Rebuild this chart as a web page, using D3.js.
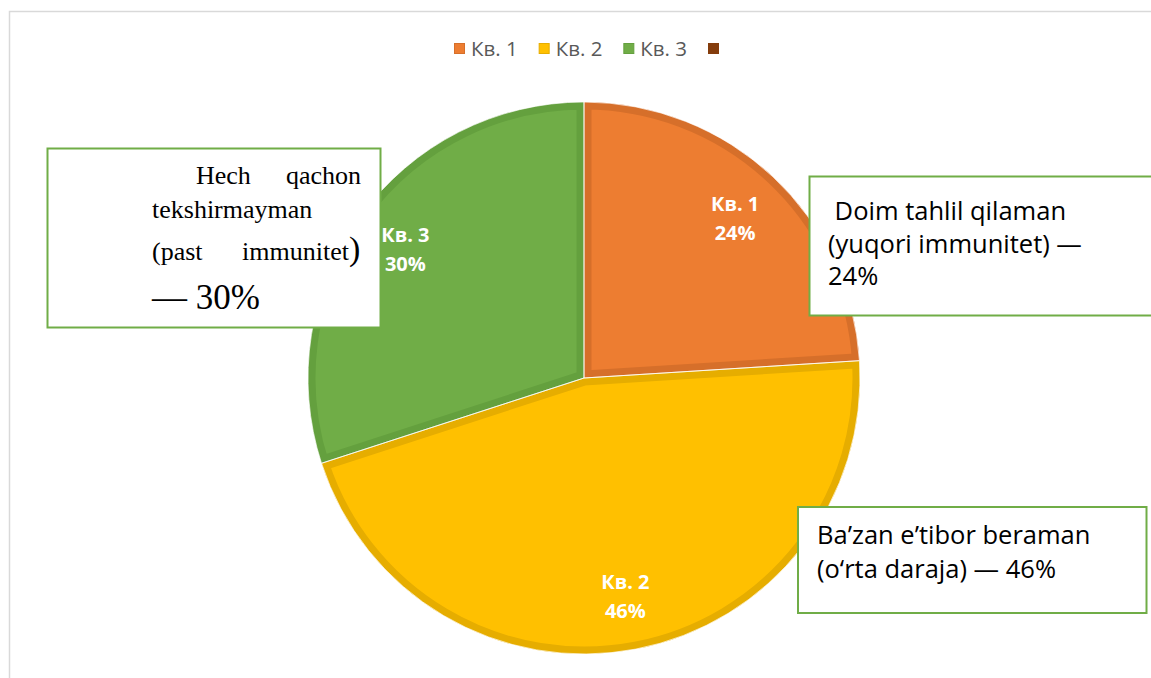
<!DOCTYPE html>
<html>
<script src="https://d3js.org/d3.v7.min.js"></script>

<head>
    <style>
        body {
            margin: 0;
            background-color: white;
        }

        svg {
            display: block;
        }
    </style>
</head>

<body>
    <svg width="1151" height="678"></svg>
</body>
<script>
    const width = 1151,
        height = 678;
    const svg = d3.select("svg");

    // data
    const CATEGORIES = ["Кв. 1", "Кв. 2", "Кв. 3", ""];
    const VALUES = [24, 46, 30, 0];
    const FILLS = ["#ed7d31", "#ffc000", "#70ad47", "#843c0c"];
    const EDGES = ["#d66f2a", "#e6ad00", "#64a03e", "#843c0c"];

    // callout boxes
    const RIGHT_TOP_LINES = [" Doim tahlil qilaman", "(yuqori immunitet) —", "24%"];
    const RIGHT_BOTTOM_LINES = ["Ba’zan e’tibor beraman", "(o‘rta daraja) — 46%"];

    const sans = "'Open Sans', 'Noto Sans', sans-serif";
    const serif = "'Liberation Serif', 'DejaVu Serif', serif";

    function draw() {
        // chart frame
        svg.append("path")
            .attr("d", "M9.5,678 L9.5,11.5 L1151,11.5")
            .attr("fill", "none")
            .attr("stroke", "#d9d9d9")
            .attr("stroke-width", 1.5);

        // legend
        const legendX = d3.scalePoint().domain(d3.range(CATEGORIES.length)).range([454, 708]);
        CATEGORIES.forEach((c, i) => {
            svg.append("rect")
                .attr("x", legendX(i) + 0.5)
                .attr("y", 43.5)
                .attr("width", 10)
                .attr("height", 10)
                .attr("fill", FILLS[i])
                .attr("stroke", EDGES[i]);
            if (c) {
                svg.append("text")
                    .attr("x", legendX(i) + 17)
                    .attr("y", 56)
                    .attr("font-family", sans)
                    .attr("font-size", 20.5)
                    .attr("fill", "#595959")
                    .text(c);
            }
        });

        // pie
        const cx = 584, cy = 378, r = 276;
        const pie = d3.pie().sort(null).value(d => d.value);
        const arcs = pie(CATEGORIES.map((c, i) => ({ name: c, value: VALUES[i], i: i })))
            .filter(d => d.data.value > 0);
        const arc = d3.arc().innerRadius(0).outerRadius(r);
        const labelArc = d3.arc().innerRadius(r * 0.8).outerRadius(r * 0.8);
        const g = svg.append("g").attr("transform", `translate(${cx},${cy})`);
        const defs = svg.append("defs");

        arcs.forEach(d => {
            defs.append("clipPath")
                .attr("id", "clip" + d.data.i)
                .append("path")
                .attr("d", arc(d));
            g.append("path")
                .attr("d", arc(d))
                .attr("fill", FILLS[d.data.i])
                .attr("stroke", EDGES[d.data.i])
                .attr("stroke-width", 15)
                .attr("stroke-linejoin", "round")
                .attr("clip-path", `url(#clip${d.data.i})`);
        });
        arcs.forEach(d => {
            g.append("path")
                .attr("d", arc(d))
                .attr("fill", "none")
                .attr("stroke", "white")
                .attr("stroke-opacity", 0.7)
                .attr("stroke-width", 1);
        });

        arcs.forEach(d => {
            const [lx, ly] = labelArc.centroid(d);
            const t = g.append("text")
                .attr("text-anchor", "middle")
                .attr("font-family", sans)
                .attr("font-weight", "bold")
                .attr("font-size", 20)
                .attr("fill", "white");
            t.append("tspan").attr("x", lx).attr("y", ly - 6).text(d.data.name);
            t.append("tspan").attr("x", lx).attr("y", ly + 23).text(d.data.value + "%");
        });

        // left callout (justified serif text)
        svg.append("rect")
            .attr("x", 47.5).attr("y", 148.5)
            .attr("width", 333).attr("height", 179)
            .attr("fill", "white")
            .attr("stroke", "#70ad47")
            .attr("stroke-width", 2);
        const serifText = (x, y, s, size, anchor) => svg.append("text")
            .attr("x", x).attr("y", y)
            .attr("font-family", serif)
            .attr("font-size", size)
            .attr("text-anchor", anchor || "start")
            .attr("fill", "black")
            .text(s);
        serifText(196, 184, "Hech", 26);
        serifText(361, 184, "qachon", 26, "end");
        serifText(152, 218, "tekshirmayman", 26);
        serifText(152, 260, "(past", 26);
        serifText(349, 260, "immunitet", 26, "end");
        serifText(349, 260, ")", 34);
        serifText(152, 309, "— 30%", 35);

        // right callouts
        const box = (x, y, w, h, lines, tx, ty, dy) => {
            svg.append("rect")
                .attr("x", x).attr("y", y)
                .attr("width", w).attr("height", h)
                .attr("fill", "white")
                .attr("stroke", "#70ad47")
                .attr("stroke-width", 2);
            lines.forEach((l, i) => {
                svg.append("text")
                    .attr("x", tx).attr("y", ty + i * dy)
                    .attr("font-family", sans)
                    .attr("font-size", 25.5)
                    .attr("fill", "black")
                    .attr("xml:space", "preserve")
                    .text(l);
            });
        };
        box(809.5, 176.5, 360, 139, RIGHT_TOP_LINES, 828, 220, 32.5);
        box(798, 507, 348.5, 106, RIGHT_BOTTOM_LINES, 817, 544, 34);
    }

    draw();
</script>

</html>
